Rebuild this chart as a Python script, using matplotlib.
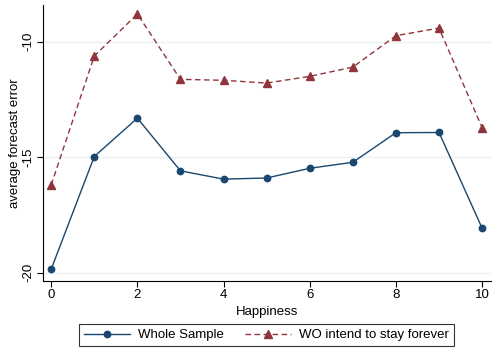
import matplotlib
matplotlib.use('Agg')
import matplotlib.pyplot as plt

plt.rcParams['font.family'] = ['Liberation Sans', 'DejaVu Sans']

# 数据
happiness = [0, 1, 2, 3, 4, 5, 6, 7, 8, 9, 10]
whole_sample = [-19.85, -14.97, -13.31, -15.59, -15.95, -15.90, -15.48, -15.22, -13.94, -13.93, -18.07]
wo_stay = [-16.20, -10.62, -8.80, -11.63, -11.67, -11.79, -11.50, -11.10, -9.74, -9.41, -13.72]
yticks = [-20, -15, -10]
xticks = [0, 2, 4, 6, 8, 10]

blue = '#1a476f'
red = '#90353b'

fig = plt.figure(figsize=(4.92, 3.51), dpi=100)
ax = fig.add_axes([0.0874, 0.1994, 0.9126, 0.7864])

# 网格线
for yv in yticks:
    ax.axhline(yv, color='#eaf2f3', lw=1.0, zorder=0)

ax.plot(happiness, whole_sample, color=blue, lw=1.0, marker='o', ms=4.6,
        label='Whole Sample', zorder=3)
ax.plot(happiness, wo_stay, color=red, lw=1.0, ls=(0, (4, 2.5)), marker='^', ms=5.2,
        label='WO intend to stay forever', zorder=3)

ax.set_xlim(-0.19, 10.23)
ax.set_ylim(-20.36, -8.41)
ax.set_xticks(xticks)
ax.set_yticks(yticks)
ax.set_yticklabels([str(v) for v in yticks], rotation=90, va='center')
ax.tick_params(labelsize=9.5, length=4, width=0.8, color='black', pad=2)

ax.spines['top'].set_visible(False)
ax.spines['right'].set_visible(False)
ax.spines['left'].set_linewidth(0.8)
ax.spines['bottom'].set_linewidth(0.8)

ax.set_xlabel('Happiness', fontsize=9.5, labelpad=3)
ax.set_ylabel('average forecast error', fontsize=9.5, labelpad=1)

leg = fig.legend(loc='center', bbox_to_anchor=(266.5 / 492, 1 - 335 / 351), ncol=2,
                 fontsize=9.5, frameon=True, fancybox=False, edgecolor='black',
                 handlelength=3.5, columnspacing=1.6, borderpad=0.35, handletextpad=0.6,
                 borderaxespad=0)
leg.get_frame().set_linewidth(0.8)

fig.savefig('out.png', dpi=100)
